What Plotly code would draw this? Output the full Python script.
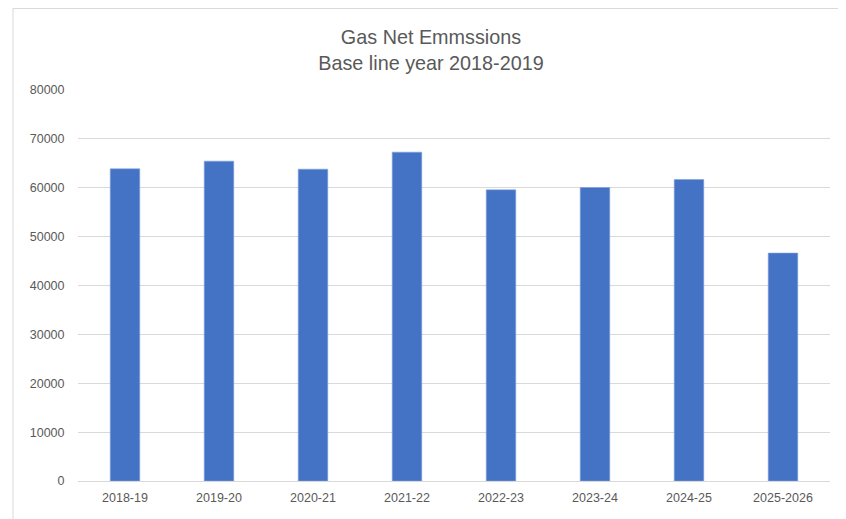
import plotly.graph_objects as go

categories = ["2018-19", "2019-20", "2020-21", "2021-22", "2022-23", "2023-24", "2024-25", "2025-2026"]
emissions = [63870, 65440, 63800, 67280, 59570, 60040, 61680, 46630]
y_ticks = [0, 10000, 20000, 30000, 40000, 50000, 60000, 70000, 80000]

# page has an 8px body margin, so the figure is sized/offset to compensate
OFF = 8
W, H = 846 - OFF, 519 - OFF
L, R, T, B = 78 - OFF, 16, 90 - OFF, 38
pw = W - L - R
ph = H - T - B

font_family = "Liberation Sans, Arial, sans-serif"
grey = "#595959"

fig = go.Figure(
    go.Bar(
        x=categories,
        y=emissions,
        marker=dict(color="#4472C4", line=dict(color="#7EA3E0", width=0.6)),
        width=0.314,
    )
)

fig.update_layout(
    width=W,
    height=H,
    margin=dict(l=L, r=R, t=T, b=B, pad=0),
    paper_bgcolor="white",
    plot_bgcolor="white",
    showlegend=False,
    font=dict(family=font_family, color=grey, size=13),
    title=dict(
        text="Gas Net Emmssions<br>Base line year 2018-2019",
        font=dict(family=font_family, size=19.8, color=grey),
        x=(431 - OFF) / W,
        xanchor="center",
        xref="container",
        y=1 - 36 / H,
        yanchor="middle",
        yref="container",
    ),
    xaxis=dict(
        type="category",
        showgrid=False,
        showline=False,
        zeroline=False,
        ticks="outside",
        ticklen=5,
        tickcolor="rgba(0,0,0,0)",
        tickfont=dict(size=12.5, color=grey),
    ),
    yaxis=dict(
        range=[0, 80000],
        tickvals=y_ticks,
        ticktext=[str(v) for v in y_ticks],
        showgrid=True,
        gridcolor="#D9D9D9",
        gridwidth=1,
        zeroline=True,
        zerolinecolor="#D9D9D9",
        zerolinewidth=1,
        showline=False,
        ticks="outside",
        ticklen=10,
        tickcolor="rgba(0,0,0,0)",
        tickfont=dict(size=12.5, color=grey),
    ),
    shapes=[
        dict(
            type="rect",
            xref="paper",
            yref="paper",
            x0=(13 - OFF - L) / pw,
            x1=(W + 10 - L) / pw,
            y0=-(B + 10) / ph,
            y1=1 + (T - 0.5) / ph,
            line=dict(color="#D9D9D9", width=1),
            fillcolor="rgba(0,0,0,0)",
            layer="below",
        )
    ],
)

fig.write_html("out.html")
